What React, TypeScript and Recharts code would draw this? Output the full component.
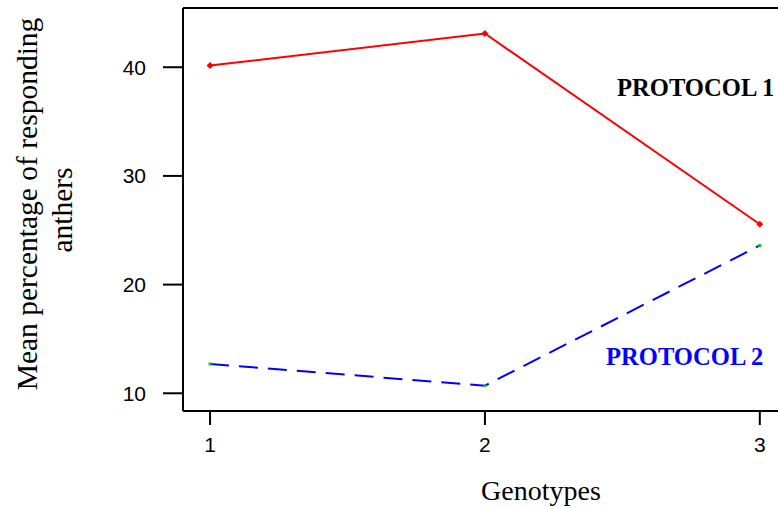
import { LineChart, Line, XAxis, YAxis, ReferenceLine, Customized } from 'recharts';

// Mean % of responding anthers per genotype, two culture protocols
const genotypes = [1, 2, 3];
const protocol1 = [40.15, 43.1, 25.55];
const protocol2 = [12.7, 10.7, 23.6];
const yTicks = [10, 20, 30, 40];
const xTicks = [1, 2, 3];

const data = genotypes.map((g, i) => ({ genotype: g, p1: protocol1[i], p2: protocol2[i] }));

const Y_MIN = 8.37;
const Y_MAX = 45.45;

const SERIF = '"Liberation Serif", "Times New Roman", serif';
const SANS = '"Liberation Sans", Arial, sans-serif';

const RedDot = ({ cx, cy }: any) => (
    <path d={`M${cx - 3.5},${cy} L${cx},${cy - 3.5} L${cx + 3.5},${cy} L${cx},${cy + 3.5} Z`} fill="#ff0000" />
);

const GreenDot = ({ cx, cy }: any) => (
    <rect x={cx - 1.5} y={cy - 1.5} width={3} height={3} fill="#22bb22" />
);

const Annotations = () => (
    <g>
        <text x={617} y={96} fontFamily={SERIF} fontWeight="bold" fontSize={24.6} fill="#000">PROTOCOL 1</text>
        <text x={606} y={365} fontFamily={SERIF} fontWeight="bold" fontSize={24.6} fill="#0000ff">PROTOCOL 2</text>
        <text transform="translate(37,204) rotate(-90)" textAnchor="middle" fontFamily={SERIF} fontSize={29.5} fill="#000">
            Mean percentage of responding
        </text>
        <text transform="translate(72,210) rotate(-90)" textAnchor="middle" fontFamily={SERIF} fontSize={29.5} fill="#000">
            anthers
        </text>
        <text x={541} y={500} textAnchor="middle" fontFamily={SERIF} fontSize={28} fill="#000">Genotypes</text>
    </g>
);

export default function App() {
    return (
        <div style={{ position: 'absolute', left: 0, top: 0, width: 778, height: 508, overflow: 'hidden', background: '#fff' }}>
            <LineChart width={900} height={508} data={data} margin={{ top: 8, right: 0, bottom: 0, left: 0 }}>
                <XAxis
                    dataKey="genotype" type="number" domain={[0.9016, 3.51]} ticks={xTicks} allowDataOverflow
                    height={97} tickSize={14} tickMargin={12}
                    axisLine={{ stroke: '#000', strokeWidth: 2 }} tickLine={{ stroke: '#000', strokeWidth: 2 }}
                    tick={{ fontSize: 21, fill: '#000', fontFamily: SANS }}
                />
                <YAxis
                    type="number" domain={[Y_MIN, Y_MAX]} ticks={yTicks} allowDataOverflow
                    width={183} tickSize={20} tickMargin={17}
                    axisLine={{ stroke: '#000', strokeWidth: 2 }} tickLine={{ stroke: '#000', strokeWidth: 2 }}
                    tick={{ fontSize: 21, fill: '#000', fontFamily: SANS }}
                />
                <ReferenceLine y={Y_MAX} stroke="#000" strokeWidth={2} />
                <Line type="linear" dataKey="p1" stroke="#ff0000" strokeWidth={2} dot={<RedDot />} activeDot={false} isAnimationActive={false} />
                <Line type="linear" dataKey="p2" stroke="#0000ff" strokeWidth={2} strokeDasharray="19 10" dot={<GreenDot />} activeDot={false} isAnimationActive={false} />
                <Customized component={Annotations} />
            </LineChart>
        </div>
    );
}
